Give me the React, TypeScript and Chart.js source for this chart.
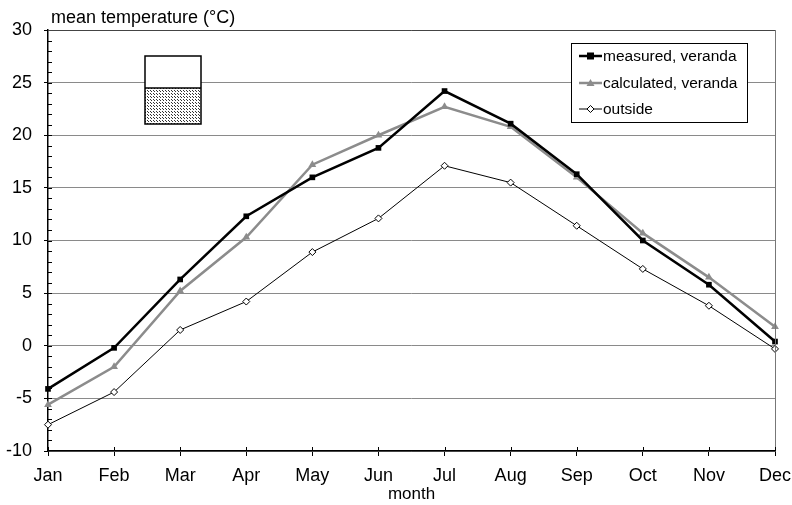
import React, { useEffect, useRef } from "react";
import { Chart, registerables } from "chart.js";

Chart.register(...registerables);

const months = ["Jan", "Feb", "Mar", "Apr", "May", "Jun", "Jul", "Aug", "Sep", "Oct", "Nov", "Dec"];
const measuredVeranda = [-4.1, -0.2, 6.3, 12.3, 16.0, 18.8, 24.2, 21.1, 16.3, 10.0, 5.8, 0.4];
const calculatedVeranda = [-5.6, -2.0, 5.2, 10.3, 17.2, 20.0, 22.7, 20.8, 16.0, 10.7, 6.5, 1.8];
const outside = [-7.5, -4.4, 1.5, 4.2, 8.9, 12.1, 17.1, 15.5, 11.4, 7.3, 3.8, -0.3];
const seriesLabels = ["measured, veranda", "calculated, veranda", "outside"];
const yMin = -10;
const yMax = 30;
const yTitle = "mean temperature (°C)";
const xTitle = "month";

const FONT = "'Liberation Sans', Arial, sans-serif";

export default function App() {
  const ref = useRef<HTMLCanvasElement | null>(null);

  useEffect(() => {
    const canvas = ref.current!;
    const decor = {
      id: "decor",
      afterDraw(chart: any) {
        const { ctx, chartArea: a, scales } = chart;
        const ys = scales.y;
        const xs = scales.x;
        ctx.save();
        // top & right frame
        ctx.strokeStyle = "#444";
        ctx.lineWidth = 1;
        ctx.beginPath();
        ctx.moveTo(a.left, a.top + 0.5);
        ctx.lineTo(a.right, a.top + 0.5);
        ctx.stroke();
        ctx.strokeStyle = "#777";
        ctx.beginPath();
        ctx.moveTo(a.right + 0.5, a.top);
        ctx.lineTo(a.right + 0.5, a.bottom);
        ctx.stroke();
        // inner ticks y
        ctx.strokeStyle = "#000";
        for (let v = yMin + 1; v < yMax; v++) {
          const y = Math.round(ys.getPixelForValue(v)) + 0.5;
          ctx.beginPath();
          ctx.moveTo(a.left, y);
          ctx.lineTo(a.left + 4, y);
          ctx.stroke();
        }
        // inner ticks x
        for (let i = 0; i < months.length; i++) {
          const x = Math.round(xs.getPixelForValue(i)) + 0.5;
          ctx.beginPath();
          ctx.moveTo(x, a.bottom);
          ctx.lineTo(x, a.bottom - 4);
          ctx.stroke();
        }
        // y title
        ctx.fillStyle = "#000";
        ctx.font = `18px ${FONT}`;
        ctx.textAlign = "left";
        ctx.textBaseline = "alphabetic";
        ctx.fillText(yTitle, 51, 23);
        // icon
        const bx = 145, by = 56, bw = 56, bh = 68, split = 32;
        const pc = document.createElement("canvas");
        pc.width = 3;
        pc.height = 3;
        const pctx = pc.getContext("2d")!;
        pctx.fillStyle = "#fff";
        pctx.fillRect(0, 0, 3, 3);
        pctx.fillStyle = "#333";
        pctx.fillRect(0, 0, 1, 1);
        pctx.fillRect(1, 1, 1, 1);
        const pat = ctx.createPattern(pc, "repeat");
        ctx.fillStyle = "#fff";
        ctx.fillRect(bx, by, bw, split);
        ctx.fillStyle = pat;
        ctx.fillRect(bx, by + split, bw, bh - split);
        ctx.strokeStyle = "#000";
        ctx.lineWidth = 1.5;
        ctx.strokeRect(bx, by, bw, bh);
        ctx.beginPath();
        ctx.moveTo(bx, by + split);
        ctx.lineTo(bx + bw, by + split);
        ctx.stroke();
        // legend
        const lx = 571, ly = 43, lw = 176, lh = 79;
        ctx.fillStyle = "#fff";
        ctx.fillRect(lx, ly, lw, lh);
        ctx.strokeStyle = "#000";
        ctx.lineWidth = 1;
        ctx.strokeRect(lx + 0.5, ly + 0.5, lw, lh);
        const ds = chart.data.datasets;
        const rowsY = [56, 83, 109];
        ctx.font = `15.5px ${FONT}`;
        ctx.textBaseline = "middle";
        for (let i = 0; i < ds.length; i++) {
          const d = ds[i];
          const y = rowsY[i];
          ctx.strokeStyle = d.borderColor;
          ctx.lineWidth = d.borderWidth;
          ctx.beginPath();
          ctx.moveTo(579, y);
          ctx.lineTo(602, y);
          ctx.stroke();
          const cx = 590.5;
          ctx.fillStyle = d.pointBackgroundColor;
          ctx.strokeStyle = d.pointBorderColor;
          ctx.lineWidth = 1;
          if (d.pointStyle === "rect") {
            ctx.fillRect(cx - 3.5, y - 3.5, 7, 7);
          } else if (d.pointStyle === "triangle") {
            ctx.beginPath();
            ctx.moveTo(cx, y - 4);
            ctx.lineTo(cx + 4, y + 3);
            ctx.lineTo(cx - 4, y + 3);
            ctx.closePath();
            ctx.fill();
          } else {
            ctx.beginPath();
            ctx.moveTo(cx, y - 3.5);
            ctx.lineTo(cx + 3.5, y);
            ctx.lineTo(cx, y + 3.5);
            ctx.lineTo(cx - 3.5, y);
            ctx.closePath();
            ctx.fill();
            ctx.stroke();
          }
          ctx.fillStyle = "#000";
          ctx.fillText(d.label, 603, y + 1);
        }
        // x title
        ctx.font = `17px ${FONT}`;
        ctx.textAlign = "center";
        ctx.textBaseline = "middle";
        ctx.fillText(xTitle, (a.left + a.right) / 2, 494);
        ctx.restore();
      },
    };

    const chart = new Chart(canvas, {
      type: "line",
      data: {
        labels: months,
        datasets: [
          {
            label: seriesLabels[0],
            data: measuredVeranda,
            borderColor: "#000",
            borderWidth: 2.5,
            pointStyle: "rect",
            pointRadius: 4,
            pointBackgroundColor: "#000",
            pointBorderColor: "#000",
            pointBorderWidth: 0,
            tension: 0,
          },
          {
            label: seriesLabels[1],
            data: calculatedVeranda,
            borderColor: "#8c8c8c",
            borderWidth: 2.5,
            pointStyle: "triangle",
            pointRadius: 4.5,
            pointBackgroundColor: "#8c8c8c",
            pointBorderColor: "#8c8c8c",
            pointBorderWidth: 0,
            tension: 0,
          },
          {
            label: seriesLabels[2],
            data: outside,
            borderColor: "#000",
            borderWidth: 1,
            pointStyle: "rectRot",
            pointRadius: 3.5,
            pointBackgroundColor: "#fff",
            pointBorderColor: "#000",
            pointBorderWidth: 1,
            tension: 0,
          },
        ],
      },
      options: {
        animation: false,
        responsive: false,
        devicePixelRatio: 1,
        layout: { padding: { top: 30, right: 17, left: 0, bottom: 0 } },
        plugins: { legend: { display: false }, tooltip: { enabled: false } },
        scales: {
          x: {
            offset: false,
            grid: {
              drawOnChartArea: false,
              drawTicks: true,
              tickLength: 5,
              tickColor: "#000",
            },
            border: { color: "#000", width: 1.5 },
            ticks: {
              color: "#000",
              font: { family: FONT, size: 18 },
              padding: 9,
              maxRotation: 0,
              autoSkip: false,
            },
            afterFit(scale: any) {
              scale.height = 54;
              scale.paddingLeft = 0;
              scale.paddingRight = 0;
            },
          },
          y: {
            min: yMin,
            max: yMax,
            grid: {
              color: (c: any) => (c.tick && c.tick.value % 5 === 0 ? "#8a8a8a" : "transparent"),
              tickColor: (c: any) => (c.tick && c.tick.value % 5 === 0 ? "#000" : "transparent"),
              tickLength: 4,
              lineWidth: 1,
            },
            border: { color: "#000", width: 1.5 },
            ticks: {
              stepSize: 1,
              autoSkip: false,
              color: "#000",
              font: { family: FONT, size: 18 },
              padding: 12,
              callback: (v: any) => (Number(v) % 5 === 0 ? String(v) : ""),
            },
            afterFit(scale: any) {
              scale.width = 48;
              scale.paddingTop = 0;
              scale.paddingBottom = 0;
            },
          },
        },
      },
      plugins: [decor],
    });
    return () => chart.destroy();
  }, []);

  return (
    <div style={{ position: "fixed", left: 0, top: 0, width: 792, height: 505, background: "#fff" }}>
      <canvas ref={ref} width={792} height={505} style={{ width: 792, height: 505, display: "block" }} />
    </div>
  );
}
